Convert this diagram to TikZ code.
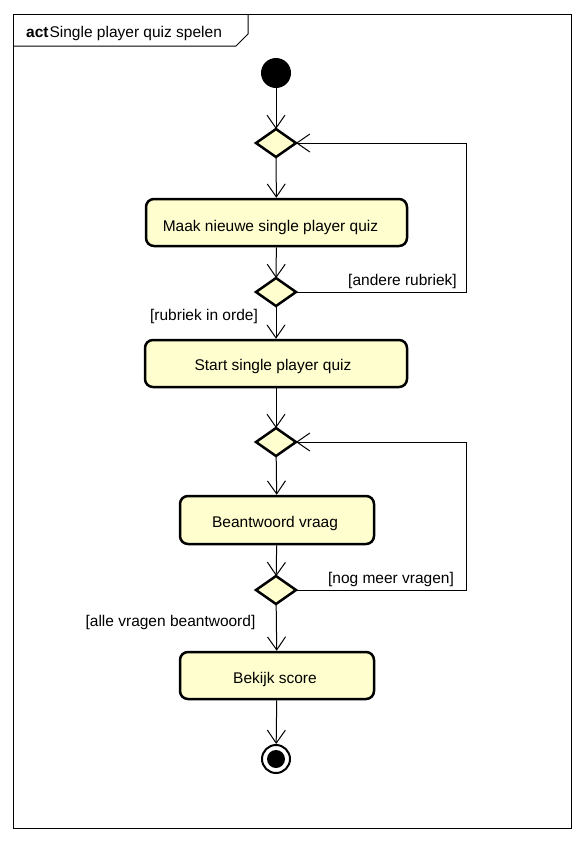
\documentclass[tikz,border=0pt]{standalone}
\usepackage{fontspec}
\setmainfont{Liberation Sans}
\usetikzlibrary{shapes.geometric,arrows.meta}
\definecolor{actfill}{HTML}{FEFECE}
\tikzset{
  every node/.style={font=\fontsize{15.5}{18}\selectfont},
  action/.style={draw, fill=actfill, line width=2.5pt, rounded corners=8pt, inner sep=0pt},
  decision/.style={draw, fill=actfill, diamond, line width=2.5pt, inner sep=0pt, minimum width=40pt, minimum height=28pt, outer sep=0pt},
  flow/.style={line width=1pt, -{Straight Barb[length=13pt, width=18pt, line width=1pt]}},
  guard/.style={inner sep=0pt, anchor=center},
}
\begin{document}
\begin{tikzpicture}[x=1pt, y=-1pt]
\useasboundingbox (0,0) rectangle (584,841);
% frame
\draw[line width=1pt] (13,14) rectangle (571,828);
\draw[line width=1pt] (13,46) -- (236,46) -- (248,34) -- (248,14);
\node[anchor=west, inner sep=0pt] (title) at (26,33) {\textbf{act}\hspace{1pt}Single player quiz spelen};
% start
\node[circle, fill=black, minimum size=30pt, inner sep=0pt] (start) at (276,73) {};
\node[decision] (d1) at (276,143) {};
\node[action, minimum width=261pt, minimum height=47pt] (a1) at (276.5,222.5) {};
\node (t1) at (270.5,227) {Maak nieuwe single player quiz};
\node[decision] (d2) at (276,292) {};
\node[action, minimum width=262pt, minimum height=47pt] (a2) at (276,363.5) {};
\node (t2) at (273,366.5) {Start single player quiz};
\node[decision] (d3) at (276,442) {};
\node[action, minimum width=194pt, minimum height=48pt] (a3) at (277,520) {};
\node (t3) at (275,523.5) {Beantwoord vraag};
\node[decision] (d4) at (276,590) {};
\node[action, minimum width=194pt, minimum height=47pt] (a4) at (277,675.5) {};
\node (t4) at (275,679.5) {Bekijk score};
\node[circle, draw, line width=2pt, minimum size=28pt, inner sep=0pt, fill=white] (end) at (276,759) {};
\node[circle, fill=black, minimum size=18pt, inner sep=0pt] (endin) at (276,759) {};
% guards
\node[guard] (g1) at (402.5,281) {[andere rubriek]};
\node[guard] (g2) at (204,316.5) {[rubriek in orde]};
\node[guard] (g3) at (391,579.5) {[nog meer vragen]};
\node[guard] (g4) at (170.5,622.5) {[alle vragen beantwoord]};
% flows
\coordinate (r1) at (466,292);
\coordinate (r1t) at (466,143);
\coordinate (r2) at (466,590);
\coordinate (r2t) at (466,442);
\draw[flow] (start) -- (d1);
\draw[flow] (d1) -- (a1);
\draw[flow] (a1) -- (d2);
\draw[flow] (d2.east) -- (r1) -- (r1t) -- (d1.east);
\draw[flow] (d2) -- (a2);
\draw[flow] (a2) -- (d3);
\draw[flow] (d3) -- (a3);
\draw[flow] (a3) -- (d4);
\draw[flow] (d4.east) -- (r2) -- (r2t) -- (d3.east);
\draw[flow] (d4) -- (a4);
\draw[flow] (a4) -- (end);
\end{tikzpicture}
\end{document}
